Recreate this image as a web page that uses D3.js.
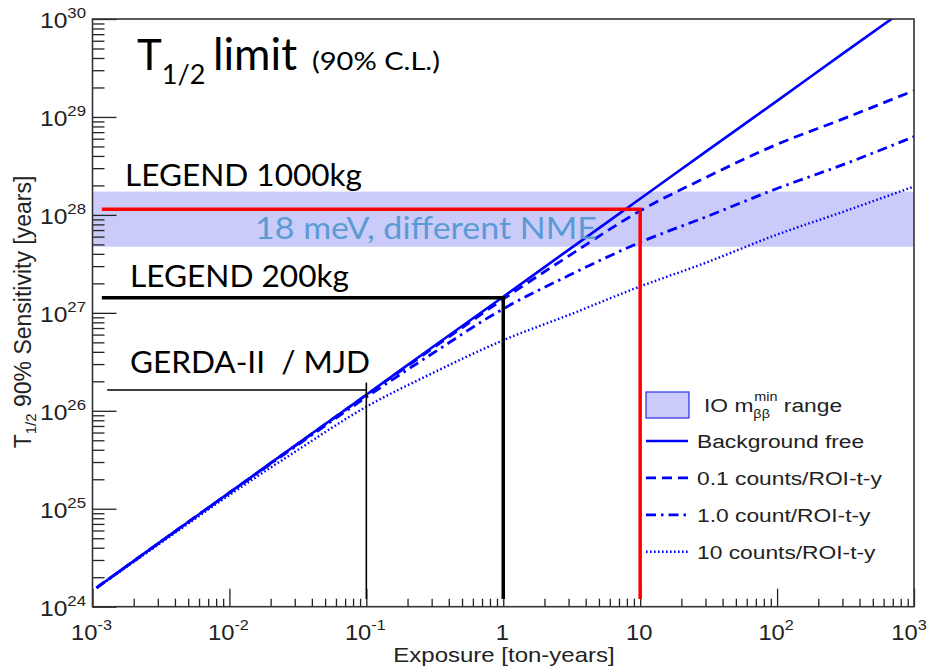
<!DOCTYPE html>
<html>
<head>
  <meta charset='utf-8'>
  <title>T1/2 sensitivity vs exposure</title>
  <script src="https://cdn.jsdelivr.net/npm/d3@7"></script>
  <style>
    body { margin: 0; background: #fff; }
    .root { font-family: "Liberation Sans", Arial, sans-serif; fill: #222; }
    .note { font-family: Lato, "Open Sans", sans-serif; fill: #000; }
  </style>
</head>
<body>
  <svg width="929" height="668" id="chart"></svg>
  <script>
    // exposure in ton-years, half-life sensitivity in years
    const exposure = [0.00107, 0.003, 0.01, 0.03, 0.1, 0.3, 1, 3, 10, 30, 100, 300, 1000];
    const bgFree = [1.56e24, 4.4e24, 1.46e25, 4.4e25, 1.46e26, 4.4e26, 1.46e27, 4.4e27, 1.46e28, 4.4e28, 1.46e29, 4.4e29, 1.46e30];
    const bg01 = [1.56e24, 4.4e24, 1.46e25, 4.37e25, 1.45e26, 4.27e26, 1.38e27, 3.8e27, 1.1e28, 2.4e28, 5.25e28, 9.5e28, 1.86e29];
    const bg1 = [1.56e24, 4.37e24, 1.45e25, 4.27e25, 1.38e26, 3.8e26, 1.1e27, 2.4e27, 5.25e27, 9.5e27, 1.86e28, 3.24e28, 6.3e28];
    const bg10 = [1.55e24, 4.27e24, 1.38e25, 3.8e25, 1.1e26, 2.4e26, 5.25e26, 9.5e26, 1.86e27, 3.24e27, 6.3e27, 1.07e28, 1.95e28];

    // inverted ordering m_bb min range
    const ioBand = [4.73e27, 1.73e28];

    // experiment reach lines [exposure, T1/2]
    const legend1000 = [[0.00117, 1.14e28], [10, 1.14e28], [10, 1.2e24]];
    const legend200 = [[0.00117, 1.43e27], [1, 1.43e27], [1, 1.2e24]];
    const gerdaH = [[0.00128, 1.63e26], [0.1, 1.63e26]];
    const gerdaV = [[0.1, 1.94e26], [0.1, 1.2e24]];

    const xTickLabels = [["10", "-3"], ["10", "-2"], ["10", "-1"], ["1", ""], ["10", ""], ["10", "2"], ["10", "3"]];
    const yTickExp = ["24", "25", "26", "27", "28", "29", "30"];

    const legendLabels = ["Background free", "0.1 counts/ROI-t-y", "1.0 count/ROI-t-y", "10 counts/ROI-t-y"];

    const svg = d3.select('#chart');
    const plotL = 92.5, plotR = 914, plotT = 19, plotB = 606.7;

    const x = d3.scaleLog().domain([1e-3, 1e3]).range([plotL, plotR]);
    const y = d3.scaleLog().domain([1e24, 1e30]).range([plotB, plotT]);

    svg.append('clipPath').attr('id', 'plotClip')
      .append('rect').attr('x', plotL).attr('y', plotT)
      .attr('width', plotR - plotL).attr('height', plotB - plotT);

    // band
    svg.append('rect')
      .attr('x', plotL).attr('width', plotR - plotL)
      .attr('y', y(ioBand[1])).attr('height', y(ioBand[0]) - y(ioBand[1]))
      .style('fill', '#cbcbfa');

    // axes ticks
    const isDecade = v => Math.abs(Math.log10(v) - Math.round(Math.log10(v))) < 1e-9;
    const xMajor = x.ticks().filter(isDecade);
    const xMinor = x.ticks().filter(v => !isDecade(v));
    const yMajor = y.ticks().filter(isDecade);
    const yMinor = y.ticks().filter(v => !isDecade(v));

    const tickStyle = g => {
      g.select('.domain').remove();
      g.selectAll('line').style('stroke', '#222').style('stroke-width', 1.3);
    };

    svg.append('g').attr('transform', `translate(0,${plotB})`)
      .call(d3.axisBottom(x).tickValues(xMajor).tickSize(-18).tickFormat(''))
      .call(tickStyle);
    svg.append('g').attr('transform', `translate(0,${plotB})`)
      .call(d3.axisBottom(x).tickValues(xMinor).tickSize(-8).tickFormat(''))
      .call(tickStyle);
    svg.append('g').attr('transform', `translate(${plotL},0)`)
      .call(d3.axisLeft(y).tickValues(yMajor).tickSize(-24).tickFormat(''))
      .call(tickStyle);
    svg.append('g').attr('transform', `translate(${plotL},0)`)
      .call(d3.axisLeft(y).tickValues(yMinor).tickSize(-12).tickFormat(''))
      .call(tickStyle);

    // tick labels (last one nudged so it stays inside the page)
    xMajor.forEach((v, i) => {
      const nudge = i === xMajor.length - 1 ? -5 : -1;
      const t = svg.append('text').classed('root', true)
        .attr('transform', `translate(${x(v) + nudge},640) scale(1.08,1)`)
        .attr('text-anchor', 'middle').style('font-size', '22px');
      t.append('tspan').text(xTickLabels[i][0]);
      if (xTickLabels[i][1]) t.append('tspan').attr('dy', -10).style('font-size', '15px').text(xTickLabels[i][1]);
    });
    yMajor.forEach((v, i) => {
      const t = svg.append('text').classed('root', true)
        .attr('transform', `translate(86,${y(v) + 9}) scale(1.12,1)`)
        .attr('text-anchor', 'end').style('font-size', '22px');
      t.append('tspan').text('10');
      t.append('tspan').attr('dy', -10).style('font-size', '15px').text(yTickExp[i]);
    });

    // axis titles
    svg.append('text').classed('root', true)
      .attr('transform', 'translate(504,662) scale(1.2,1)')
      .attr('text-anchor', 'middle').style('font-size', '20px')
      .text('Exposure [ton-years]');
    const yt = svg.append('text').classed('root', true)
      .attr('transform', 'translate(31,312) rotate(-90)')
      .attr('text-anchor', 'middle').style('font-size', '23px');
    yt.append('tspan').text('T');
    yt.append('tspan').attr('dy', 5).style('font-size', '15px').text('1/2');
    yt.append('tspan').attr('dy', -5).text(' 90% Sensitivity [years]');

    // curves
    const line = d3.line().x(d => x(d[0])).y(d => y(d[1])).curve(d3.curveMonotoneX);
    const curves = [
      { vals: bgFree, dash: null, w: 2.6 },
      { vals: bg01, dash: '10,6', w: 2.8 },
      { vals: bg1, dash: '10,5,2.5,5', w: 2.8 },
      { vals: bg10, dash: '1.6,2.4', w: 2.4 }
    ];
    const curveG = svg.append('g').attr('clip-path', 'url(#plotClip)');
    curveG.selectAll('path')
      .data(curves)
      .join('path')
      .attr('d', d => line(exposure.map((e, i) => [e, d.vals[i]])))
      .style('fill', 'none')
      .style('stroke', '#0000ff')
      .style('stroke-width', d => d.w)
      .style('stroke-dasharray', d => d.dash);

    // reach lines
    const plain = d3.line().x(d => x(d[0])).y(d => y(d[1]));
    svg.append('path').attr('d', plain(legend1000))
      .style('fill', 'none').style('stroke', '#ff0000').style('stroke-width', 3.5);
    svg.append('path').attr('d', plain(legend200))
      .style('fill', 'none').style('stroke', '#000').style('stroke-width', 3.5);
    svg.append('path').attr('d', plain(gerdaH))
      .style('fill', 'none').style('stroke', '#000').style('stroke-width', 1.6);
    svg.append('path').attr('d', plain(gerdaV))
      .style('fill', 'none').style('stroke', '#000').style('stroke-width', 1.6);

    // frame
    svg.append('rect')
      .attr('x', plotL).attr('y', plotT).attr('width', plotR - plotL).attr('height', plotB - plotT)
      .style('fill', 'none').style('stroke', '#333').style('stroke-width', 1.6);

    // legend
    const lg = svg.append('g');
    lg.append('rect').attr('x', 646).attr('y', 392).attr('width', 43).attr('height', 26)
      .style('fill', '#cbcbfa').style('stroke', '#3a3af0').style('stroke-width', 1.3);
    const io = lg.append('text').classed('root', true)
      .attr('transform', 'translate(704,412) scale(1.2,1)').style('font-size', '19px');
    io.append('tspan').text('IO m');
    io.append('tspan').attr('dy', 6).style('font-size', '12px').text('ββ');
    io.append('tspan').attr('dx', -13).attr('dy', -17).style('font-size', '12px').text('min');
    io.append('tspan').attr('dy', 11).text(' range');

    legendLabels.forEach((lab, i) => {
      const yy = 441 + i * 36.9;
      lg.append('line').attr('x1', 646).attr('x2', 688).attr('y1', yy).attr('y2', yy)
        .style('stroke', '#0000ff').style('stroke-width', curves[i].w)
        .style('stroke-dasharray', curves[i].dash);
      lg.append('text').classed('root', true)
        .attr('transform', `translate(697,${yy + 7}) scale(1.2,1)`)
        .style('font-size', '19px').text(lab);
    });

    // annotations
    const title = svg.append('text').classed('note', true).attr('x', 137).attr('y', 70);
    title.append('tspan').style('font-size', '42px').text('T');
    title.append('tspan').attr('dy', 14).style('font-size', '27px').text('1/2');
    title.append('tspan').attr('dy', -14).attr('x', 213)
      .attr('textLength', 84).attr('lengthAdjust', 'spacingAndGlyphs')
      .style('font-size', '44px').text('limit');
    title.append('tspan').attr('x', 312)
      .attr('textLength', 128).attr('lengthAdjust', 'spacingAndGlyphs')
      .style('font-size', '25px').text('(90% C.L.)');

    const notes = [
      { t: 'LEGEND 1000kg', x: 125, y: 186, w: 237, c: '#000' },
      { t: '18 meV, different NME', x: 255, y: 239, w: 342, c: '#5b9bd5' },
      { t: 'LEGEND 200kg', x: 130, y: 287, w: 219, c: '#000' },
      { t: 'GERDA-II  / MJD', x: 130, y: 373, w: 240, c: '#000' }
    ];
    svg.selectAll('.noteText')
      .data(notes)
      .join('text')
      .classed('note', true)
      .classed('noteText', true)
      .attr('x', d => d.x).attr('y', d => d.y)
      .attr('textLength', d => d.w).attr('lengthAdjust', 'spacingAndGlyphs')
      .style('font-size', '30px')
      .style('white-space', 'pre')
      .style('fill', d => d.c)
      .text(d => d.t);
  </script>
</body>
</html>
